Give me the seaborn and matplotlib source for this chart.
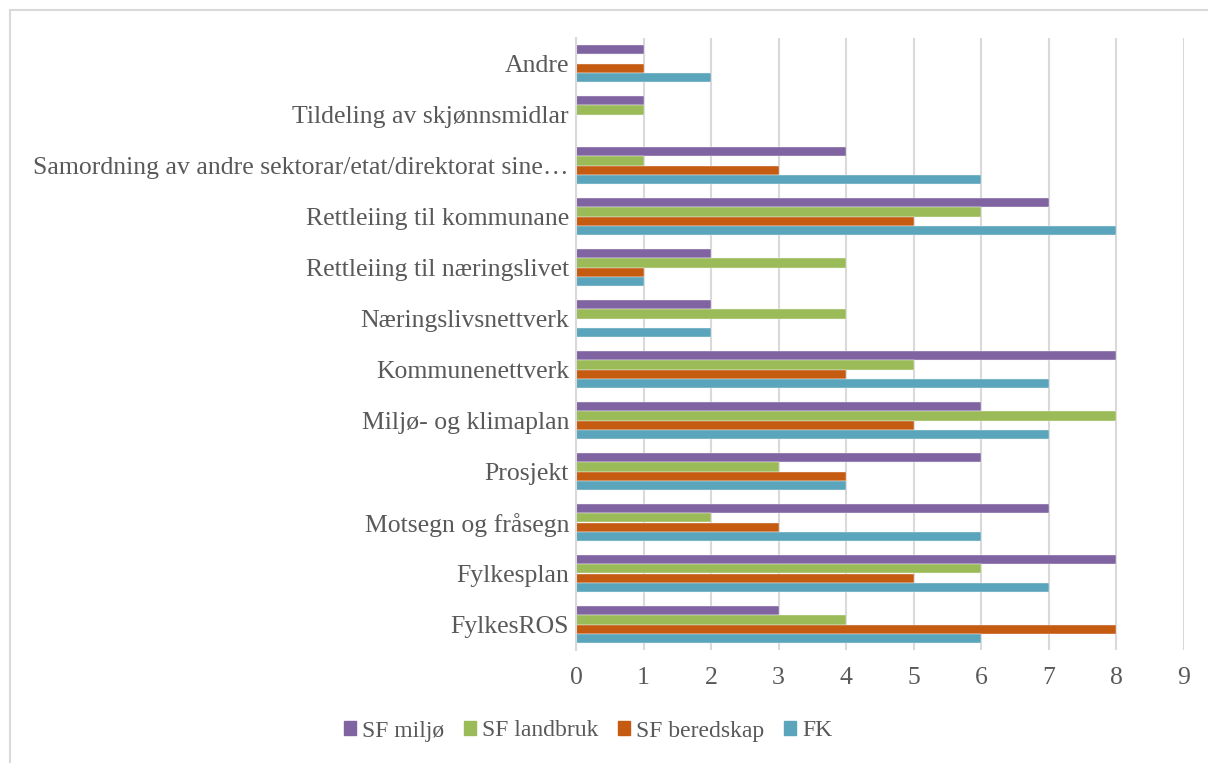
import pandas as pd
import seaborn as sns
import matplotlib.pyplot as plt
from matplotlib.patches import Rectangle

# Categories, top to bottom as shown in the chart
categories = [
    "Andre",
    "Tildeling av skjønnsmidlar",
    "Samordning av andre sektorar/etat/direktorat sine…",
    "Rettleiing til kommunane",
    "Rettleiing til næringslivet",
    "Næringslivsnettverk",
    "Kommunenettverk",
    "Miljø- og klimaplan",
    "Prosjekt",
    "Motsegn og fråsegn",
    "Fylkesplan",
    "FylkesROS",
]
series = ["SF miljø", "SF landbruk", "SF beredskap", "FK"]

sf_miljo = [1, 1, 4, 7, 2, 2, 8, 6, 6, 7, 8, 3]
sf_landbruk = [0, 1, 1, 6, 4, 4, 5, 8, 3, 2, 6, 4]
sf_beredskap = [1, 0, 3, 5, 1, 0, 4, 5, 4, 3, 5, 8]
fk = [2, 0, 6, 8, 1, 2, 7, 7, 4, 6, 7, 6]

colors = ["#8064A2", "#9BBB59", "#C55A11", "#5BA5BC"]
text_col = "#595959"
grid_col = "#D9D9D9"

# long table for seaborn
rows = []
for name, vals in zip(series, [sf_miljo, sf_landbruk, sf_beredskap, fk]):
    for cat, v in zip(categories, vals):
        rows.append({"kategori": cat, "serie": name, "antal": v})
df = pd.DataFrame(rows)

sns.set_style("white")
plt.rcParams["font.family"] = ["Liberation Serif", "DejaVu Serif"]

fig = plt.figure(figsize=(12.08, 7.63), dpi=100)
ax = fig.add_axes([576 / 1208, 1 - 650 / 763, (1184 - 576) / 1208, (650 - 38) / 763])

sns.barplot(
    data=df, y="kategori", x="antal", hue="serie",
    order=categories, hue_order=series, palette=colors,
    width=0.72, orient="h", ax=ax, saturation=1,
    edgecolor="#F2F2F2", linewidth=0.3,
)

ax.set_xlim(0, 9)
ax.set_ylim(11.5, -0.5)
ax.set_xticks(range(10))
ax.grid(axis="x", color=grid_col, linewidth=1.5)
ax.set_axisbelow(True)
for s in ["top", "right", "bottom"]:
    ax.spines[s].set_visible(False)
ax.spines["left"].set_color(grid_col)
ax.spines["left"].set_linewidth(1.5)
ax.set_xlabel("")
ax.set_ylabel("")
ax.tick_params(axis="both", length=0, labelsize=18.5, labelcolor=text_col)
ax.tick_params(axis="y", pad=5)
ax.tick_params(axis="x", pad=12)

ax.legend_.remove()
handles = [plt.Rectangle((0, 0), 1, 1, color=c) for c in colors]
fig.legend(
    handles, series, loc="center", bbox_to_anchor=(0.487, 1 - 731 / 763),
    ncol=4, frameon=False, fontsize=17, handlelength=0.5, handleheight=0.5,
    columnspacing=0.85, handletextpad=0.25, labelcolor=text_col,
)

# outer chart border (left and top edges visible)
fig.patches.append(Rectangle((10 / 1208, -0.1), 1.2, 1 - 10 / 763 + 0.1,
                             transform=fig.transFigure, fill=False,
                             edgecolor=grid_col, linewidth=1.5))

fig.savefig("out.png", dpi=100)
